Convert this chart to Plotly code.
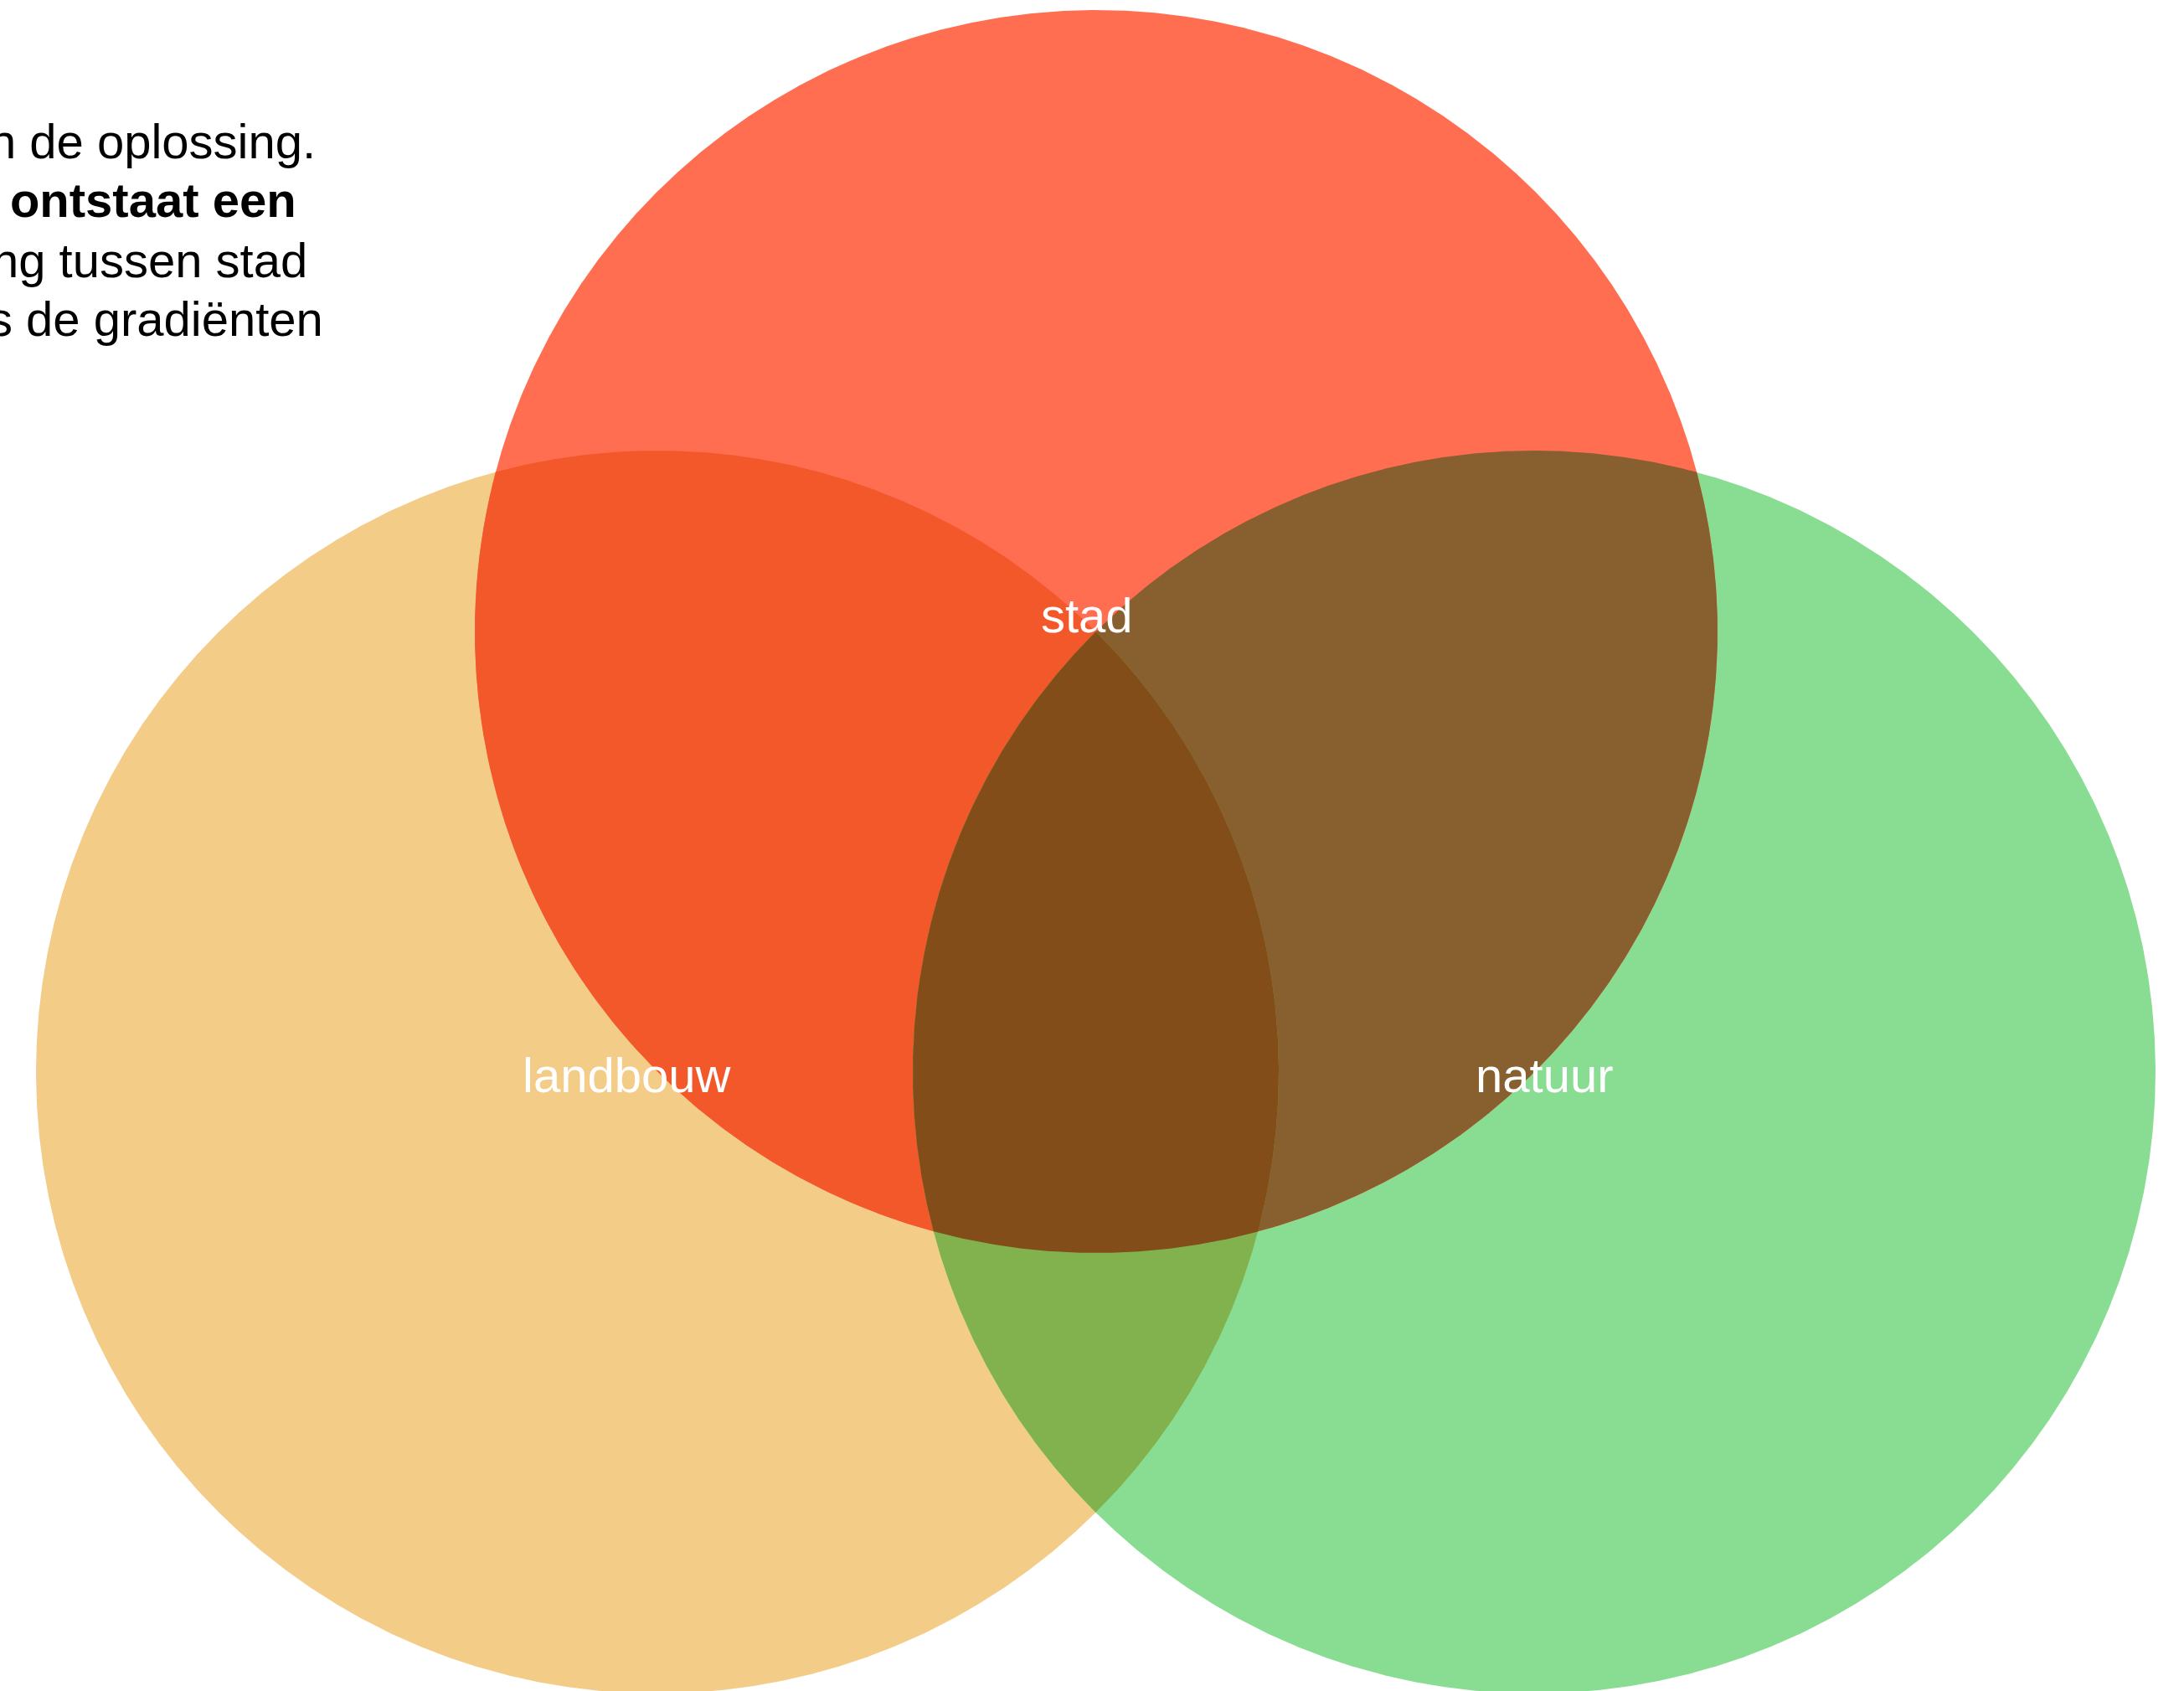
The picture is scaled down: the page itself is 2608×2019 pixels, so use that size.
import numpy as np
import plotly.graph_objects as go

W, H = 2608, 2019

# ---- data (venn layout in page units) ----
set_names = ["stad", "landbouw", "natuur"]
set_cx = [1309, 785, 1832]
set_cy = [754, 1280, 1280]
set_r = [742, 742, 742]
set_colors = ["#FF6E50", "#F3CD88", "#88DD92"]

label_x = [1298, 748, 1844]
label_y = [734, 1283, 1283]

intro_lines = [
    "Hier zie je een deel van de oplossing.",
    "<b>Daardoor ontstaat een</b>",
    "spanning tussen stad",
    "en natuur, net als de gradiënten",
]
intro_right = [379, 356, 369, 388]
intro_y = [168, 238, 310, 380]

FONT = "Liberation Sans, Arial, sans-serif"
FS = 58


def hex_to_rgb(h):
    h = h.lstrip("#")
    return np.array([int(h[i:i + 2], 16) for i in (0, 2, 4)], dtype=float)


def multiply(idx):
    c = np.array([255.0, 255.0, 255.0])
    for i in idx:
        c = c * hex_to_rgb(set_colors[i]) / 255.0
    c = np.round(c).astype(int)
    return f"rgb({c[0]},{c[1]},{c[2]})"


def region_polygon(idx, n=2000):
    t = np.linspace(0, 2 * np.pi, n, endpoint=False)
    pts = []
    for i in idx:
        px = set_cx[i] + set_r[i] * np.cos(t)
        py = set_cy[i] + set_r[i] * np.sin(t)
        keep = np.ones(n, dtype=bool)
        for j in idx:
            if j == i:
                continue
            keep &= (px - set_cx[j]) ** 2 + (py - set_cy[j]) ** 2 <= set_r[j] ** 2 + 1e-6
        pts.append(np.column_stack([px[keep], py[keep]]))
    for a in range(len(idx)):
        for b in range(a + 1, len(idx)):
            i, j = idx[a], idx[b]
            x0, y0, r0 = set_cx[i], set_cy[i], set_r[i]
            x1, y1, r1 = set_cx[j], set_cy[j], set_r[j]
            d = np.hypot(x1 - x0, y1 - y0)
            if d >= r0 + r1 or d == 0:
                continue
            aa = (r0 ** 2 - r1 ** 2 + d ** 2) / (2 * d)
            hh = np.sqrt(max(r0 ** 2 - aa ** 2, 0))
            mx = x0 + aa * (x1 - x0) / d
            my = y0 + aa * (y1 - y0) / d
            for s in (1, -1):
                qx = mx + s * hh * (y1 - y0) / d
                qy = my - s * hh * (x1 - x0) / d
                ok = True
                for k in idx:
                    if (qx - set_cx[k]) ** 2 + (qy - set_cy[k]) ** 2 > set_r[k] ** 2 + 1e-3:
                        ok = False
                if ok:
                    pts.append(np.array([[qx, qy]]))
    P = np.vstack(pts)
    c = P.mean(axis=0)
    order = np.argsort(np.arctan2(P[:, 1] - c[1], P[:, 0] - c[0]))
    P = P[order]
    return np.append(P[:, 0], P[0, 0]), np.append(P[:, 1], P[0, 1])


fig = go.Figure()

combos = [(1,), (2,), (0,), (0, 1), (0, 2), (1, 2), (0, 1, 2)]
for combo in combos:
    xs, ys = region_polygon(list(combo))
    col = multiply(combo)
    fig.add_trace(go.Scatter(
        x=xs, y=ys, mode="lines", fill="toself", fillcolor=col,
        line=dict(width=0, color=col), hoverinfo="skip", showlegend=False,
    ))

annotations = []
for name, lx, ly in zip(set_names, label_x, label_y):
    annotations.append(dict(
        x=lx, y=ly, xref="x", yref="y", text=name, showarrow=False,
        xanchor="center", yanchor="middle",
        font=dict(family=FONT, size=FS, color="white"),
    ))
for txt, rx, ty in zip(intro_lines, intro_right, intro_y):
    annotations.append(dict(
        x=rx, y=ty, xref="x", yref="y", text=txt, showarrow=False,
        xanchor="right", yanchor="middle", align="right",
        font=dict(family=FONT, size=FS, color="black"),
    ))

fig.update_layout(
    width=W, height=H,
    margin=dict(l=0, r=0, t=0, b=0, pad=0),
    paper_bgcolor="white", plot_bgcolor="white",
    showlegend=False,
    xaxis=dict(range=[0, W], visible=False, fixedrange=True),
    yaxis=dict(range=[H, 0], visible=False, fixedrange=True),
    annotations=annotations,
)

fig.write_html(
    "out.html",
    config={"displayModeBar": False},
    post_script="document.body.style.margin='0';document.body.style.overflow='hidden';",
)
